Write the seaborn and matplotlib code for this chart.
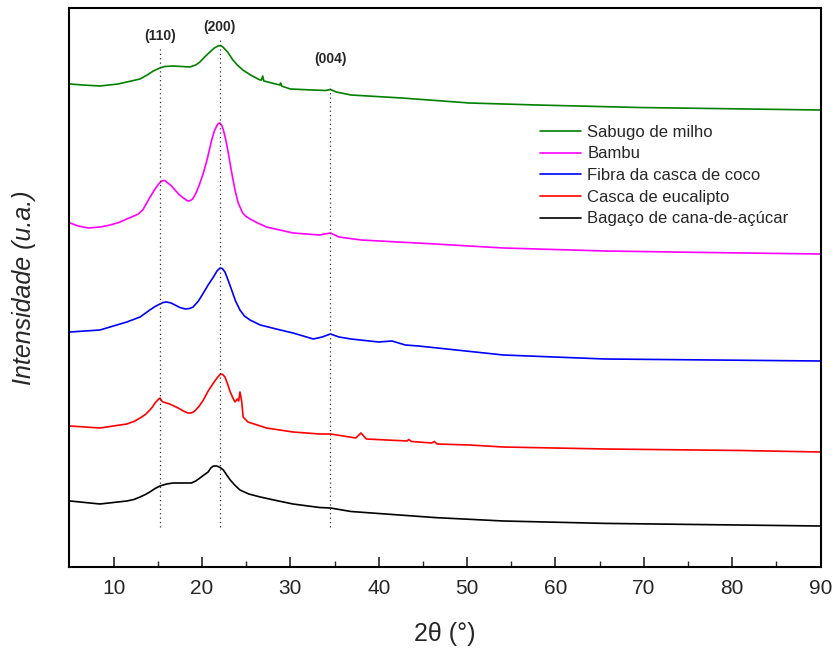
import pandas as pd
import numpy as np
import matplotlib
matplotlib.use("Agg")
import matplotlib.pyplot as plt
import seaborn as sns

# XRD patterns (2theta in degrees, intensity in a.u., curves already offset)
tt_sabugo = [5.07, 6.5, 8.46, 10.5, 12.0, 12.99, 13.8, 14.5, 15.25, 15.8, 16.72, 17.7,
             18.64, 19.3, 19.77, 20.3, 20.9, 21.4, 21.81, 22.1, 22.37, 22.9, 23.5, 24.0,
             24.63, 25.5, 26.56, 26.73, 26.87, 27.0, 28.8, 28.9, 29.0, 30.0, 32.5, 34.0,
             34.54, 35.2, 36.86, 42.6, 50.26, 57.9, 69.4, 89.9]
i_sabugo = [483, 482, 481, 483, 486, 488, 492, 496, 499, 500.5, 501, 500.5,
            500, 502, 505, 510, 515, 519, 521, 521.5, 520, 515, 507, 502,
            497, 492, 487, 487, 491, 486, 482, 484, 481, 478, 477, 476.5,
            477.5, 475, 472, 469, 464, 462, 459.5, 457]

tt_bambu = [5.07, 6.0, 7.14, 8.5, 9.6, 10.6, 11.5, 12.3, 12.8, 13.3, 13.75, 14.2,
            14.69, 15.1, 15.45, 15.8, 16.0, 16.5, 16.95, 17.4, 17.9, 18.3, 18.57, 18.95,
            19.33, 19.7, 20.16, 20.6, 21.1, 21.4, 21.67, 21.85, 22.04, 22.25, 22.42, 22.7,
            22.98, 23.35, 23.74, 24.1, 24.61, 25.0, 25.44, 26.3, 27.3, 28.8, 30.3, 33.3,
            34.54, 35.5, 37.99, 46.4, 54.1, 65.6, 77.1, 89.9]
i_bambu = [344, 341, 339, 340, 342, 344.5, 348, 351, 353, 357, 364, 371,
           378, 383, 386, 386.5, 385, 381.5, 377, 372.5, 369, 366.5, 366, 368,
           374, 382, 394, 408, 427, 436, 441, 443.5, 444, 441.5, 437, 427,
           414, 395, 377, 364, 354, 350.5, 348, 344, 340, 337, 334, 332,
           334, 330, 327, 323, 319, 316, 314.5, 313]

tt_coco = [5.07, 8.46, 11.5, 13.0, 14.1, 14.7, 15.25, 15.6, 16.0, 16.5, 16.95, 17.5,
           18.1, 18.6, 19.0, 19.6, 20.16, 20.7, 21.3, 21.7, 22.04, 22.3, 22.6, 22.95,
           23.36, 23.8, 24.3, 24.8, 25.44, 26.6, 28.4, 30.3, 32.6, 33.6, 34.54, 35.5,
           36.86, 40.0, 41.5, 43.0, 44.5, 54.1, 65.6, 89.9]
i_coco = [235, 237, 245, 250, 257, 260.5, 263, 264.5, 265, 264, 262, 259.5,
          258, 258.5, 260, 266, 274, 282, 290, 296, 299, 298.5, 295, 287,
          277, 266, 257, 251, 247, 242, 238, 234, 228, 230, 233, 230,
          228, 225, 226, 222, 221, 212, 208, 206]

tt_eucalipto = [5.07, 8.46, 11.5, 12.3, 13.0, 13.6, 14.1, 14.4, 14.69, 15.0, 15.25, 15.45,
                15.6, 16.35, 17.3, 17.9, 18.4, 18.8, 19.2, 19.7, 20.16, 20.7, 21.3, 21.7,
                22.1, 22.35, 22.6, 22.9, 23.2, 23.5, 23.74, 24.0, 24.15, 24.3, 24.45, 24.5,
                24.66, 25.2, 27.3, 30.3, 33.3, 34.54, 37.4, 37.99, 38.6, 43.2, 43.4, 43.7,
                46.0, 46.3, 46.6, 50.26, 54.1, 65.6, 81.0, 89.9]
i_eucalipto = [141, 139, 143, 145.5, 149, 152.5, 157, 160, 164, 167, 169, 166,
               165, 163, 159, 156, 154, 154, 156, 161, 167, 176, 184, 189,
               193, 192.5, 190, 183, 175, 169, 165, 168, 166, 175, 168, 165,
               150, 145, 139, 135, 133, 133, 129, 134, 128, 126, 127.5, 125.5,
               124, 125.5, 123, 122, 120, 118, 116.5, 115]

tt_bagaco = [5.07, 8.46, 11.5, 12.3, 13.0, 13.6, 14.1, 14.7, 15.25, 16.0, 16.75, 17.8,
             18.8, 19.3, 19.77, 20.3, 20.7, 21.0, 21.3, 21.67, 22.05, 22.42, 22.8, 23.2,
             23.7, 24.3, 25.3, 26.6, 28.4, 30.3, 33.3, 34.54, 36.86, 46.4, 54.1, 65.6, 89.9]
i_bagaco = [66, 63, 66, 67.5, 70, 72.5, 75, 78.5, 81, 83, 84, 84,
            84, 86, 89, 92.5, 95, 99, 101, 101, 99.5, 97, 92, 87,
            82, 77, 73, 70, 66.5, 63, 59.5, 59, 55.5, 49.4, 46, 43.6, 41]

amostras = ["Sabugo de milho", "Bambu", "Fibra da casca de coco",
            "Casca de eucalipto", "Bagaço de cana-de-açúcar"]
cores = ["#008000", "#ff00ff", "#0000ff", "#ff0000", "#000000"]

# crystal planes of cellulose I
planos = ["(110)", "(200)", "(004)"]
pos_planos = [15.3, 22.0, 34.5]

series = [(tt_sabugo, i_sabugo), (tt_bambu, i_bambu), (tt_coco, i_coco),
          (tt_eucalipto, i_eucalipto), (tt_bagaco, i_bagaco)]
frames = []
for nome, (tt, ii) in zip(amostras, series):
    frames.append(pd.DataFrame({"2theta": tt, "I": ii, "amostra": nome}))
df = pd.concat(frames, ignore_index=True)

sns.set_style("ticks")
plt.rcParams["font.family"] = ["Liberation Sans", "DejaVu Sans"]

fig = plt.figure(figsize=(8.35, 6.5), dpi=100)
ax = fig.add_axes([0.0831, 0.1277, 0.8997, 0.86])

sns.lineplot(data=df, x="2theta", y="I", hue="amostra", hue_order=amostras,
             palette=dict(zip(amostras, cores)), estimator=None, sort=False,
             linewidth=1.2, ax=ax)

# dotted reference lines + plane labels
tops = [519, 530, 482]
lab_y = [531, 540, 508]
for p, nome, t, ly in zip(pos_planos, planos, tops, lab_y):
    ax.plot([p, p], [40, t], ls=(0, (1, 2.5)), color="#333333", lw=0.9)
    ax.text(p, ly, nome, ha="center", va="center", fontsize=10, fontweight="bold")

ax.set_xlim(5, 90)
ax.set_ylim(0, 559)
ax.set_xticks(np.arange(10, 91, 10))
ax.set_xticks(np.arange(15, 90, 10), minor=True)
ax.set_yticks([])
ax.tick_params(axis="x", which="major", direction="in", length=7, width=1.2, pad=9,
               labelsize=15)
ax.tick_params(axis="x", which="minor", direction="in", length=4, width=1.0)
for s in ax.spines.values():
    s.set_linewidth(1.5)
    s.set_color("black")

ax.set_xlabel("2θ (°)", fontsize=18, labelpad=17)
ax.set_ylabel("Intensidade (u.a.)", fontsize=18, style="italic", labelpad=24)

ax.legend(loc="upper left", bbox_to_anchor=(0.607, 0.818), frameon=False, fontsize=12,
          handlelength=2.46, handletextpad=0.36, labelspacing=0.4, borderpad=0.4)

fig.savefig("out.png", dpi=100)
